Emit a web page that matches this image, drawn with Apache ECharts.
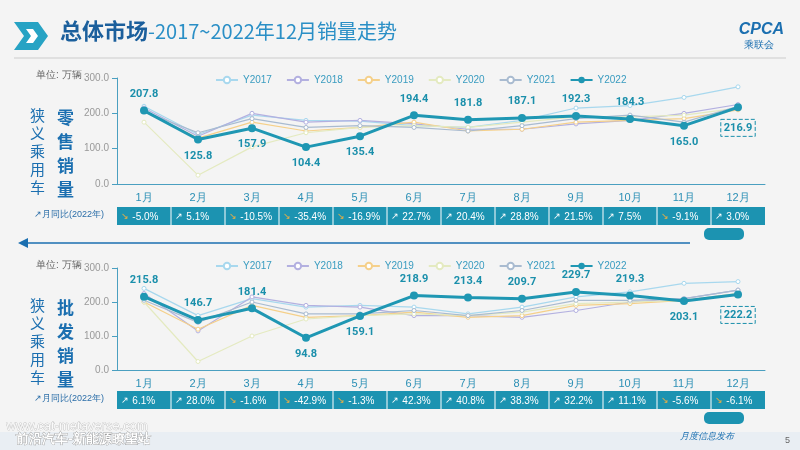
<!DOCTYPE html>
<html><head><meta charset="utf-8">
<script src="https://cdn.jsdelivr.net/npm/echarts@6/dist/echarts.min.js"></script>
<style>html,body{margin:0;padding:0;background:#f4f4f4}#c{width:800px;height:450px}</style>
</head><body><div id="c"></div>
<script>
const months = ['1月','2月','3月','4月','5月','6月','7月','8月','9月','10月','11月','12月']
const years = ['Y2017','Y2018','Y2019','Y2020','Y2021','Y2022']
const colors = ['#a8d8ee','#b3b0e0','#f5d08a','#e4eac0','#a9bbd0','#1f97b3']

// 零售
const retail2017 = [220,140,195,180,178,165,160,180,215,222,245,275]
const retail2018 = [215,135,200,175,180,170,155,155,170,180,200,225]
const retail2019 = [205,130,175,150,160,175,150,155,175,180,185,210]
const retail2020 = [175,25,105,145,160,165,160,175,190,190,195,215]
const retail2021 = [205,145,185,160,165,160,150,165,185,195,175,220]
const retail2022 = [207.8,125.8,157.9,104.4,135.4,194.4,181.8,187.1,192.3,184.3,165.0,216.9]
const retailYoy = ['-5.0%','5.1%','-10.5%','-35.4%','-16.9%','22.7%','20.4%','28.8%','21.5%','7.5%','-9.1%','3.0%']
const retailPos = ['top','bottom','bottom','bottom','bottom','top','top','top','top','top','bottom','bottom']

// 批发
const whole2017 = [240,160,210,185,190,185,165,185,215,230,255,260]
const whole2018 = [225,115,215,190,185,160,160,155,175,200,210,235]
const whole2019 = [200,120,190,155,160,170,155,160,190,195,205,225]
const whole2020 = [200,25,100,150,160,165,160,170,195,200,205,225]
const whole2021 = [205,140,200,165,165,175,160,175,205,205,210,235]
const whole2022 = [215.8,146.7,181.4,94.8,159.1,218.9,213.4,209.7,229.7,219.3,203.1,222.2]
const wholeYoy = ['6.1%','28.0%','-1.6%','-42.9%','-1.3%','42.3%','40.8%','38.3%','32.2%','11.1%','-5.6%','-6.1%']
const wholePos = ['top','top','top','bottom','bottom','top','top','top','top','top','bottom','bottom']

const chart = echarts.init(document.getElementById('c'))
const grids = [{left:117,right:35,top:78,height:106},{left:117,right:35,top:268,height:102}]

function makeSeries(arrs, pos, idx) {
  return arrs.map(function(d, i) {
    let main = i == 5
    let data = !main ? d : d.map(function(v, j) {
      let lab = {position: pos[j], distance: 7}
      if (j == 11) lab = {position:'bottom', distance:8, borderType:'dashed', borderColor:'#1a8fab', borderWidth:1, padding:[3,3]}
      return {value: v, label: lab}
    })
    return {
      name: years[i], type:'line', data:data, xAxisIndex:idx, yAxisIndex:idx,
      symbol:'circle', symbolSize: main ? 8 : 4, z: main ? 10 : 2,
      itemStyle:{color: main ? colors[i] : '#fff', borderColor: colors[i], borderWidth: main ? 0 : 1},
      lineStyle:{color:colors[i], width: main ? 3 : 1.2},
      label: main ? {show:true, fontWeight:'bold', fontSize:11, color:'#1a8fab', fontFamily:'Roboto',
        formatter: function(p){ return p.value.toFixed(1) }} : {show:false}
    }
  })
}

const series = makeSeries([retail2017,retail2018,retail2019,retail2020,retail2021,retail2022], retailPos, 0)
  .concat(makeSeries([whole2017,whole2018,whole2019,whole2020,whole2021,whole2022], wholePos, 1))

const axisX = function(i){ return {type:'category', gridIndex:i, data:months, boundaryGap:true,
  axisLine:{lineStyle:{color:'#4a9fc0'}}, axisTick:{lineStyle:{color:'#4a9fc0'}},
  axisLabel:{color:'#2a8fb5', fontSize:11, margin:8}} }
const axisY = function(i){ return {type:'value', gridIndex:i, min:0, max:300, interval:100,
  axisLine:{show:true, lineStyle:{color:'#4a9fc0'}}, axisTick:{show:true}, splitLine:{show:false},
  axisLabel:{color:'#999', fontSize:10, formatter:function(v){ return v.toFixed(1) }}} }

chart.setOption({
  backgroundColor:'#f4f4f4',
  grid: grids,
  legend: [0,1].map(function(i){ return {data:years, top: i==0 ? 70 : 256, left:210, itemWidth:22, itemHeight:8, itemGap:14,
    textStyle:{color:'#3a9cc0', fontSize:10}} }),
  xAxis:[axisX(0), axisX(1)],
  yAxis:[axisY(0), axisY(1)],
  series: series
})

// 文字与表格
const g = []
const tw = 648
g.push({type:'polygon', shape:{points:[[14,22],[38,22],[48,36],[38,50],[14,50],[24,36]]}, style:{fill:'#27a3c4'}})
g.push({type:'polygon', shape:{points:[[26,29],[33,29],[38,36],[33,43],[26,43],[31,36]]}, style:{fill:'#fff'}})
g.push({type:'text', left:60, top:20, style:{rich:{a:{fontSize:22,fontWeight:'bold',fill:'#1b5f9c',fontFamily:'Noto Sans CJK SC'},b:{fontSize:20,fill:'#2a8fc6',fontFamily:'Noto Sans CJK SC'}}, text:'{a|总体市场}{b|-2017~2022年12月销量走势}'}})
g.push({type:'line', shape:{x1:14,y1:58,x2:786,y2:58}, style:{stroke:'#ccc', lineWidth:1}})
g.push({type:'text', right:16, top:22, style:{text:'CPCA', fontSize:16, fontWeight:'bold', fontStyle:'italic', fill:'#1b6fb0'}})
g.push({type:'text', right:26, top:40, style:{text:'乘联会', fontSize:10, fill:'#1b6fb0'}})
;[['零售',78],['批发',268]].forEach(function(r){
  g.push({type:'text', left:36, top:r[1]-8, style:{text:'单位: 万辆', fontSize:10, fill:'#666'}})
  g.push({type:'text', left:30, top:r[1]+28, style:{text:'狭\n义\n乘\n用\n车', fontSize:15, lineHeight:18, fill:'#1b6fb0', fontFamily:'Noto Sans CJK SC'}})
  g.push({type:'text', left:57, top:r[1]+28, style:{text:(r[0]+'销量').split('').join('\n'), fontSize:17, lineHeight:24, fontWeight:'bold', fill:'#1b6fb0', fontFamily:'Noto Sans CJK SC'}})
})
;[[retailYoy,207],[wholeYoy,391]].forEach(function(r){
  g.push({type:'text', left:34, top:r[1]+3, style:{text:'↗月同比(2022年)', fontSize:9, fill:'#2b6ea8'}})
  g.push({type:'rect', shape:{x:117,y:r[1],width:tw,height:18}, style:{fill:'#1c93b1'}})
  r[0].forEach(function(t,i){
    let x = 117 + i*tw/12
    if (i>0) g.push({type:'line', shape:{x1:x,y1:r[1],x2:x,y2:r[1]+18}, style:{stroke:'#fff', lineWidth:1}})
    let neg = t[0] == '-'
    g.push({type:'text', x:x+4, y:r[1]+4, style:{rich:{i:{fill: neg ? '#f0b040' : '#fff', fontSize:9},t:{fill:'#fff', fontSize:10}}, text:'{i|'+(neg?'↘':'↗')+'} {t|'+t+'}'}})
  })
})
g.push({type:'line', shape:{x1:22,y1:243,x2:690,y2:243}, style:{stroke:'#1b6fb0', lineWidth:1.5}})
g.push({type:'polygon', shape:{points:[[18,243],[28,238],[28,248]]}, style:{fill:'#1b6fb0'}})
g.push({type:'rect', shape:{x:704,y:228,width:40,height:12,r:5}, style:{fill:'#1c93b1'}})
g.push({type:'rect', shape:{x:704,y:412,width:40,height:12,r:5}, style:{fill:'#1c93b1'}})
g.push({type:'rect', shape:{x:0,y:432,width:800,height:18}, style:{fill:'#e9eef3'}})
g.push({type:'text', left:6, top:420, style:{text:'www.cat-metaverse.com', fontSize:13, fill:'rgba(255,255,255,0.85)', stroke:'#aaa', lineWidth:0.5}})
g.push({type:'text', left:16, top:433, style:{text:'前沿汽车-新能源瞭望站', fontSize:13, fontWeight:'bold', fill:'#fff', stroke:'#888', lineWidth:0.6}})
g.push({type:'text', left:680, top:432, style:{text:'月度信息发布', fontSize:9, fontStyle:'italic', fill:'#1b6fb0'}})
g.push({type:'text', left:785, top:436, style:{text:'5', fontSize:9, fill:'#666'}})
chart.setOption({graphic:g})
</script></body></html>
